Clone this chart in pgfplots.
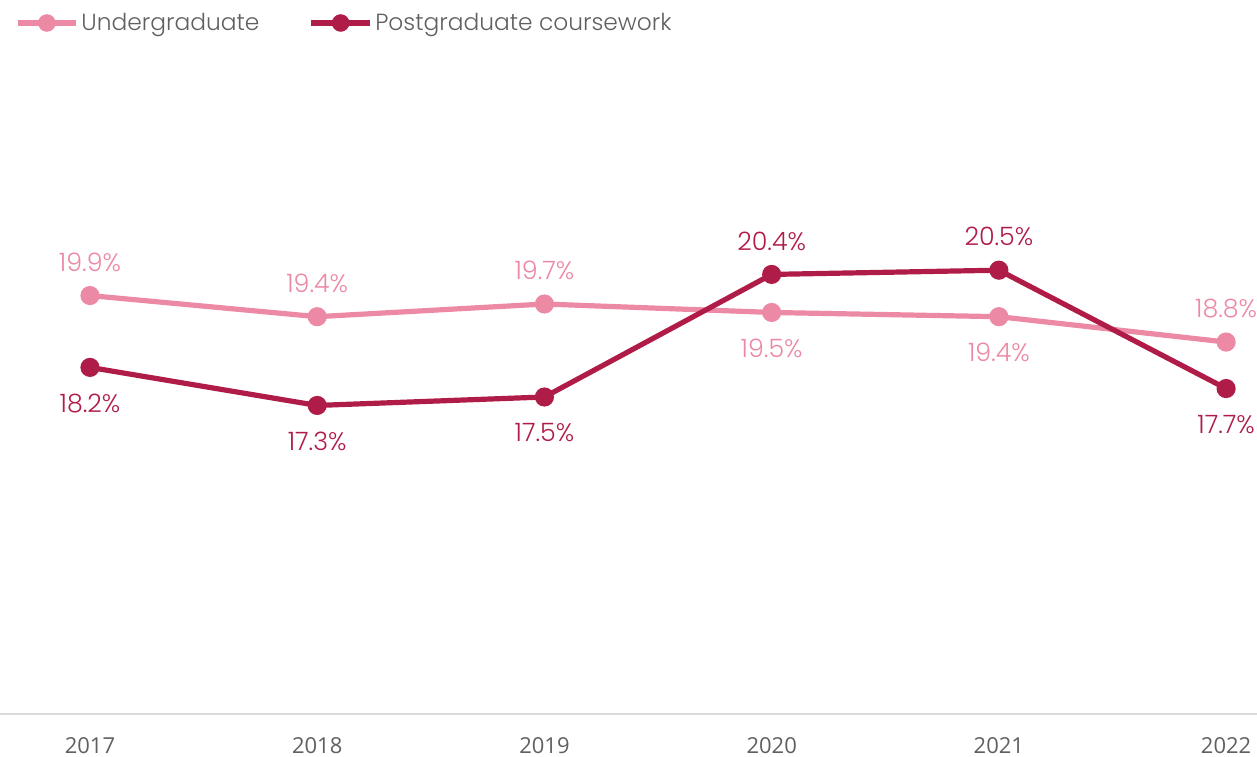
\documentclass[border=0pt]{standalone}
\usepackage{pgfplots}
\pgfplotsset{compat=1.18}
\usepackage{pgfplotstable}
\usepackage{fontspec}
\setmainfont{Poppins Light}
\newfontfamily\tickfont{Open Sans}
\definecolor{ug}{HTML}{EC89A4}
\definecolor{pg}{HTML}{B01C48}
\definecolor{txt}{HTML}{606060}
\definecolor{axl}{HTML}{D9D9D9}

\pgfplotstableread{
x y lab dy
2017 19.9 19.9\% 25
2018 19.4 19.4\% 25
2019 19.7 19.7\% 25
2020 19.5 19.5\% -27
2021 19.4 19.4\% -27
2022 18.8 18.8\% 25
}\ugdata
\pgfplotstableread{
x y lab dy
2017 18.2 18.2\% -27
2018 17.3 17.3\% -27
2019 17.5 17.5\% -27
2020 20.4 20.4\% 25
2021 20.5 20.5\% 25
2022 17.7 17.7\% -27
}\pgdata

\begin{document}
\begin{tikzpicture}
\path[use as bounding box] (0,-32.25pt) rectangle (942.75pt,535.5pt);
\begin{axis}[
  scale only axis,
  width=942.75pt, height=475.5pt,
  xmin=2016.604, xmax=2022.136,
  ymin=10, ymax=25,
  axis line style={draw=none},
  axis x line*=bottom,
  axis y line=none,
  xtick={2017,2018,2019,2020,2021,2022},
  xticklabels={2017,2018,2019,2020,2021,2022},
  xticklabel style={font=\tickfont\fontsize{16.5}{19}\selectfont, text=txt, yshift=-14.5pt},
  major tick length=0pt,
  ytick=\empty,
  clip=false,
  legend columns=2,
  legend style={draw=none, fill=none, at={(0,1)}, anchor=west, xshift=11pt, yshift=42.75pt,
    font=\fontsize{17.5}{20}\selectfont, text=txt, inner sep=0pt,
    /tikz/every even column/.append style={column sep=35pt}},
  legend image code/.code={\draw[mark repeat=2,mark phase=2, mark size=4.6pt] plot coordinates {(0pt,0pt) (22pt,0pt) (44pt,0pt)};},
  nodes near coords={\pgfplotspointmeta},
  point meta=explicit symbolic,
  visualization depends on={\thisrow{dy} \as \dy},
  nodes near coords style={anchor=center, yshift=\dy pt, font=\fontsize{19}{22}\selectfont},
]
\draw[axl, line width=1.5pt] (axis cs:2016.604,10) -- (axis cs:2022.136,10);
\addplot[ug, line width=3.9pt, mark=*, mark size=5.2pt, mark options={solid}, nodes near coords style={text=ug}]
  table[x=x, y=y, meta=lab] {\ugdata};
\addlegendentry{Undergraduate}
\addplot[pg, line width=3.9pt, mark=*, mark size=5.2pt, mark options={solid}, nodes near coords style={text=pg}]
  table[x=x, y=y, meta=lab] {\pgdata};
\addlegendentry{Postgraduate coursework}
\end{axis}
\end{tikzpicture}
\end{document}
